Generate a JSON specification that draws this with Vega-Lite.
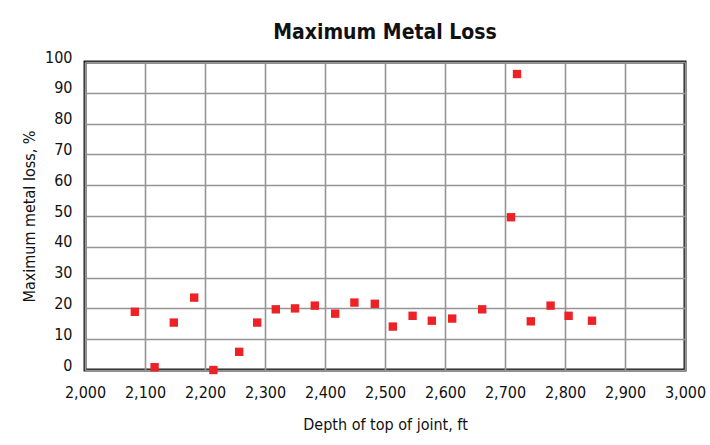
{
  "$schema": "https://vega.github.io/schema/vega-lite/v6.json",
  "autosize": {"type": "none"},
  "width": 600,
  "height": 308,
  "padding": {"left": 85, "top": 62, "right": 25, "bottom": 75},
  "background": "white",
  "title": {
    "text": "Maximum Metal Loss",
    "font": "DejaVu Sans Condensed",
    "fontSize": 21,
    "fontWeight": "bold",
    "color": "#111111",
    "anchor": "middle",
    "frame": "group",
    "offset": 6
  },
  "data": {
    "values": [
      {"depth": 2083, "loss": 18.9},
      {"depth": 2116, "loss": 0.9},
      {"depth": 2148, "loss": 15.4},
      {"depth": 2182, "loss": 23.5},
      {"depth": 2214, "loss": 0.0},
      {"depth": 2257, "loss": 5.9},
      {"depth": 2287, "loss": 15.4},
      {"depth": 2318, "loss": 19.7},
      {"depth": 2350, "loss": 20.0},
      {"depth": 2383, "loss": 20.9},
      {"depth": 2417, "loss": 18.3},
      {"depth": 2449, "loss": 21.9},
      {"depth": 2483, "loss": 21.5},
      {"depth": 2513, "loss": 14.1},
      {"depth": 2546, "loss": 17.6},
      {"depth": 2578, "loss": 16.0},
      {"depth": 2612, "loss": 16.7},
      {"depth": 2662, "loss": 19.7},
      {"depth": 2710, "loss": 49.6},
      {"depth": 2720, "loss": 96.1},
      {"depth": 2743, "loss": 15.8},
      {"depth": 2776, "loss": 20.9},
      {"depth": 2806, "loss": 17.6},
      {"depth": 2845, "loss": 16.0}
    ]
  },
  "mark": {"type": "point", "shape": "square", "filled": true, "size": 70, "color": "#ec2227", "opacity": 1, "clip": false},
  "encoding": {
    "x": {
      "field": "depth",
      "type": "quantitative",
      "scale": {"domain": [2000, 3000], "nice": false, "zero": false},
      "axis": {
        "title": "Depth of top of joint, ft",
        "values": [2000, 2100, 2200, 2300, 2400, 2500, 2600, 2700, 2800, 2900, 3000],
        "format": ",.0f",
        "labelOverlap": false,
        "labelFlush": false,
        "ticks": false,
        "domain": false,
        "labelPadding": 14,
        "labelFont": "DejaVu Sans Condensed",
        "labelFontSize": 16,
        "labelColor": "#111111",
        "titleFont": "DejaVu Sans Condensed",
        "titleFontSize": 16,
        "titleFontWeight": "normal",
        "titleColor": "#111111",
        "titlePadding": 16,
        "grid": true,
        "gridColor": "#959595",
        "gridWidth": 1.6
      }
    },
    "y": {
      "field": "loss",
      "type": "quantitative",
      "scale": {"domain": [0, 100], "nice": false},
      "axis": {
        "title": "Maximum metal loss, %",
        "values": [0, 10, 20, 30, 40, 50, 60, 70, 80, 90, 100],
        "labelOverlap": false,
        "ticks": false,
        "domain": false,
        "labelPadding": 13,
        "labelBaseline": "alphabetic",
        "labelFont": "DejaVu Sans Condensed",
        "labelFontSize": 16,
        "labelColor": "#111111",
        "titleFont": "DejaVu Sans Condensed",
        "titleFontSize": 16,
        "titleFontWeight": "normal",
        "titleColor": "#111111",
        "titlePadding": 7,
        "grid": true,
        "gridColor": "#959595",
        "gridWidth": 1.6
      }
    }
  },
  "config": {
    "view": {"stroke": "#1a1a1a", "strokeWidth": 3}
  }
}
